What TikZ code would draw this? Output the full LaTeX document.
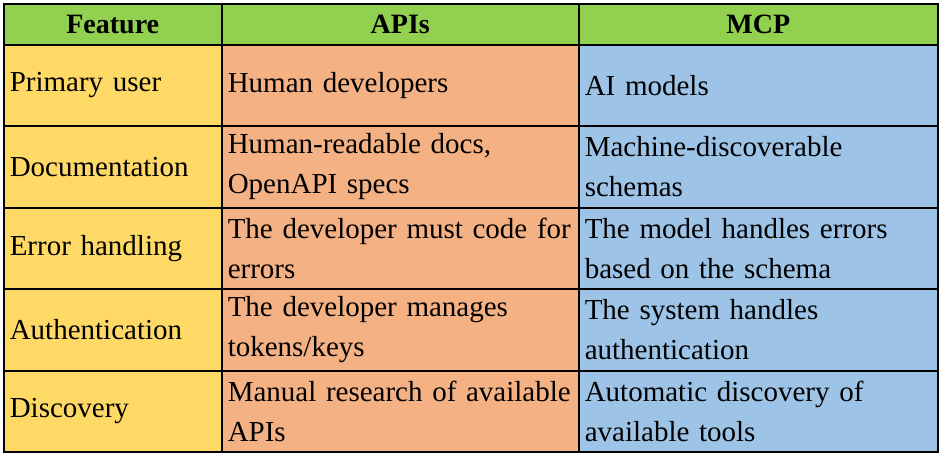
\documentclass[tikz,border=0pt]{standalone}
\usepackage{fontspec}
\setmainfont{Liberation Serif}
\definecolor{hdrgreen}{HTML}{92D050}
\definecolor{featyellow}{HTML}{FFD966}
\definecolor{apiorange}{HTML}{F4B183}
\definecolor{mcpblue}{HTML}{9DC3E6}
\begin{document}
\begin{tikzpicture}[x=1pt, y=-1pt,
  cell/.style = {draw, line width=1.5pt, anchor=north west, inner sep=0pt, inner xsep=6pt,
    minimum height=81pt, align=left, text width=#1-12pt, font=\fontsize{29}{40}\selectfont},
  head/.style = {draw, line width=1.5pt, anchor=north west, inner sep=0pt,
    minimum height=41pt, minimum width=#1, align=center, font=\fontsize{28}{34}\selectfont\bfseries}]

  \useasboundingbox (0,0) rectangle (940,455);

  \node[head=218pt, fill=hdrgreen] (H_0) at (3,3) {Feature};
  \node[head=357pt, fill=hdrgreen] (H_1) at (221,3) {APIs};
  \node[head=359pt, fill=hdrgreen] (H_2) at (578,3) {MCP};

  \foreach \row/\feat/\api/\mcp [count=\i] in {
      0/Primary user/Human developers/AI models,
      1/Documentation/{Human-readable docs,\\OpenAPI specs}/{Machine-discoverable\\schemas},
      2/Error handling/{The developer must code for\\errors}/{The model handles errors\\based on the schema},
      3/Authentication/{The developer manages\\tokens/keys}/{The system handles\\authentication},
      4/Discovery/{Manual research of available\\APIs}/{Automatic discovery of\\available tools}} {
    \node[cell=218pt, fill=featyellow] (C_\row_0) at (3,44+81.5*\row) {\feat};
    \node[cell=357pt, fill=apiorange] (C_\row_1) at (221,44+81.5*\row) {\api};
    \node[cell=359pt, fill=mcpblue] (C_\row_2) at (578,44+81.5*\row) {\mcp};
  }

\end{tikzpicture}
\end{document}
